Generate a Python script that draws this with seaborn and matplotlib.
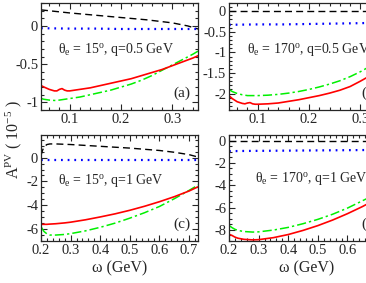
import matplotlib
matplotlib.use("Agg")
import matplotlib.pyplot as plt
import numpy as np
import pandas
import seaborn as sns
from matplotlib.ticker import MultipleLocator, FormatStrFormatter

# omega grids (GeV)
w_low = [0.044, 0.05, 0.06, 0.07, 0.075, 0.08, 0.085, 0.09, 0.095, 0.10, 0.12, 0.14,
         0.16, 0.18, 0.20, 0.22, 0.24, 0.26, 0.28, 0.30, 0.32, 0.34, 0.35]
w_low_k = [0.044, 0.10, 0.15, 0.20, 0.25, 0.30, 0.33, 0.35]
w_high = [0.2, 0.21, 0.22, 0.23, 0.25, 0.28, 0.3, 0.35, 0.4, 0.45, 0.5, 0.55,
          0.6, 0.65, 0.7, 0.73]
w_high_k = [0.2, 0.205, 0.21, 0.22, 0.23, 0.25, 0.3, 0.4, 0.5, 0.6, 0.65, 0.7, 0.73]

# (a) theta_e = 15, q = 0.5 GeV
a_red = [-0.78, -0.80, -0.83, -0.85, -0.85, -0.83, -0.82, -0.84, -0.85, -0.85, -0.83, -0.81,
         -0.78, -0.75, -0.72, -0.69, -0.65, -0.61, -0.57, -0.52, -0.47, -0.42, -0.39]
a_green = [-0.95, -0.96, -0.97, -0.975, -0.975, -0.97, -0.965, -0.96, -0.955, -0.95, -0.93, -0.90,
           -0.87, -0.84, -0.80, -0.76, -0.71, -0.65, -0.58, -0.51, -0.44, -0.37, -0.33]
a_black = [0.21, 0.17, 0.14, 0.11, 0.08, 0.04, 0.0, -0.04]
a_blue = [-0.03, -0.035, -0.035, -0.04, -0.04, -0.04, -0.04, -0.04]

# (b) theta_e = 170, q = 0.5 GeV
b_red = [-2.05, -2.12, -2.20, -2.24, -2.25, -2.23, -2.22, -2.25, -2.26, -2.26, -2.25, -2.23,
         -2.19, -2.15, -2.10, -2.05, -1.99, -1.92, -1.83, -1.70, -1.56, -1.42, -1.35]
b_green = [-1.90, -1.95, -2.00, -2.03, -2.04, -2.05, -2.05, -2.05, -2.05, -2.05, -2.04, -2.02,
           -1.99, -1.95, -1.90, -1.84, -1.77, -1.69, -1.59, -1.47, -1.33, -1.19, -1.12]
b_black = [0.0, 0.0, 0.0, 0.0, 0.0, 0.0, 0.0, 0.0]
b_blue = [-0.33, -0.32, -0.32, -0.31, -0.30, -0.29, -0.28, -0.27]

# (c) theta_e = 15, q = 1 GeV
c_red = [-5.6, -5.6, -5.6, -5.58, -5.55, -5.48, -5.42, -5.22, -4.98, -4.72, -4.42, -4.08,
         -3.70, -3.28, -2.80, -2.45]
c_green = [-5.8, -6.2, -6.4, -6.5, -6.5, -6.45, -6.38, -6.15, -5.85, -5.5, -5.08, -4.62,
           -4.10, -3.45, -2.75, -2.3]
c_black = [0.2, 0.6, 0.9, 1.1, 1.15, 1.15, 1.1, 0.95, 0.8, 0.6, 0.45, 0.25, 0.05]
c_blue = [-0.2, -0.2, -0.2, -0.2, -0.2, -0.2, -0.2, -0.2, -0.2, -0.2, -0.2, -0.2, -0.2]

# (d) theta_e = 170, q = 1 GeV
d_red = [-8.4, -8.5, -8.65, -8.75, -8.85, -8.9, -8.88, -8.7, -8.42, -8.05, -7.62, -7.12,
         -6.55, -5.92, -5.22, -4.78]
d_green = [-7.6, -7.8, -7.95, -8.05, -8.15, -8.2, -8.18, -8.02, -7.78, -7.45, -7.06, -6.6,
           -6.05, -5.4, -4.75, -4.35]
d_black = [0.0] * 13
d_blue = [-0.95, -0.95, -0.95, -0.94, -0.94, -0.93, -0.92, -0.9, -0.88, -0.86, -0.85, -0.83, -0.82]

labels = ["\u03b8$_{\\rm e}$ = 15$^{\\rm o}$, q=0.5 GeV",
          "\u03b8$_{\\rm e}$ = 170$^{\\rm o}$, q=0.5 GeV",
          "\u03b8$_{\\rm e}$ = 15$^{\\rm o}$, q=1 GeV",
          "\u03b8$_{\\rm e}$ = 170$^{\\rm o}$, q=1 GeV"]
tags = ["(a)", "(b)", "(c)", "(d)"]

sns.set_style("ticks")
plt.rcParams['font.family'] = ['Liberation Serif', 'DejaVu Serif']
plt.rcParams['mathtext.fontset'] = 'custom'
plt.rcParams['mathtext.rm'] = 'Liberation Serif'
plt.rcParams['mathtext.it'] = 'Liberation Serif:italic'
plt.rcParams['axes.unicode_minus'] = False

W, H = 366.0, 283.0
fig = plt.figure(figsize=(3.66, 2.83), dpi=100)
boxes = [(41, 3, 157, 107), (229, 3, 157, 107), (41, 135, 157, 106), (229, 135, 157, 106)]
axes = [fig.add_axes([x / W, 1 - (y + h) / H, w / W, h / H]) for x, y, w, h in boxes]

panels = [
    (w_low, w_low_k, a_red, a_green, a_black, a_blue, (0.044, 0.35), (-1.1, 0.3), 0.1, 0.02, 0.5, 0.1),
    (w_low, w_low_k, b_red, b_green, b_black, b_blue, (0.044, 0.35), (-2.4, 0.2), 0.1, 0.02, 0.5, 0.1),
    (w_high, w_high_k, c_red, c_green, c_black, c_blue, (0.2, 0.73), (-7.0, 1.9), 0.1, 0.02, 2, 0.5),
    (w_high, w_high_k, d_red, d_green, d_black, d_blue, (0.2, 0.73), (-9.0, 0.5), 0.1, 0.02, 2, 0.5),
]

text_pos = [(0.11, 0.53), (0.115, 0.53), (0.11, 0.54), (0.165, 0.56)]
for i, (ax, p) in enumerate(zip(axes, panels)):
    w, wk, red, green, black, blue, xl, yl, xmaj, xmin, ymaj, ymin = p
    sns.lineplot(x=wk, y=black, ax=ax, color='black', lw=1.0, linestyle=(0, (5, 3)))
    sns.lineplot(x=wk, y=blue, ax=ax, color='#0000ff', lw=1.6, linestyle=(0, (0.8, 2.2)))
    sns.lineplot(x=w, y=green, ax=ax, color='#00f000', lw=1.1, linestyle=(0, (6, 2, 1.5, 2)))
    sns.lineplot(x=w, y=red, ax=ax, color='#ff0000', lw=1.2)
    ax.set_xlim(*xl)
    ax.set_ylim(*yl)
    ax.xaxis.set_major_locator(MultipleLocator(xmaj))
    ax.xaxis.set_minor_locator(MultipleLocator(xmin))
    ax.yaxis.set_major_locator(MultipleLocator(ymaj))
    ax.yaxis.set_minor_locator(MultipleLocator(ymin))
    ax.xaxis.set_major_formatter(FormatStrFormatter('%g'))
    ax.yaxis.set_major_formatter(FormatStrFormatter('%g'))
    ax.tick_params(which='both', direction='in', top=True, right=True, labelsize=10.5, pad=2,
                   width=0.8)
    ax.tick_params(which='major', length=4)
    ax.tick_params(which='minor', length=2)
    for s in ax.spines.values():
        s.set_linewidth(0.9)
    if i < 2:
        ax.set_xticks([0.1, 0.2, 0.3])
    if i >= 2:
        ax.set_yticks([-8, -6, -4, -2, 0] if i == 3 else [-6, -4, -2, 0])
    ax.set_xlabel('')
    ax.set_ylabel('')
    ax.text(*text_pos[i], labels[i], transform=ax.transAxes, fontsize=10)
    ax.text(0.84, 0.12, tags[i], transform=ax.transAxes, fontsize=11)

fig.text(14 / W, 1 - 140 / H, "A$^{\\rm PV}$ ( 10$^{-5}$ )", rotation=90, fontsize=11.5,
         ha='center', va='center')
fig.text(120 / W, 1 - 268 / H, "\u03c9 (GeV)", fontsize=11.5, ha='center', va='center')
fig.text(307 / W, 1 - 268 / H, "\u03c9 (GeV)", fontsize=11.5, ha='center', va='center')

fig.savefig("out.png", dpi=100)
